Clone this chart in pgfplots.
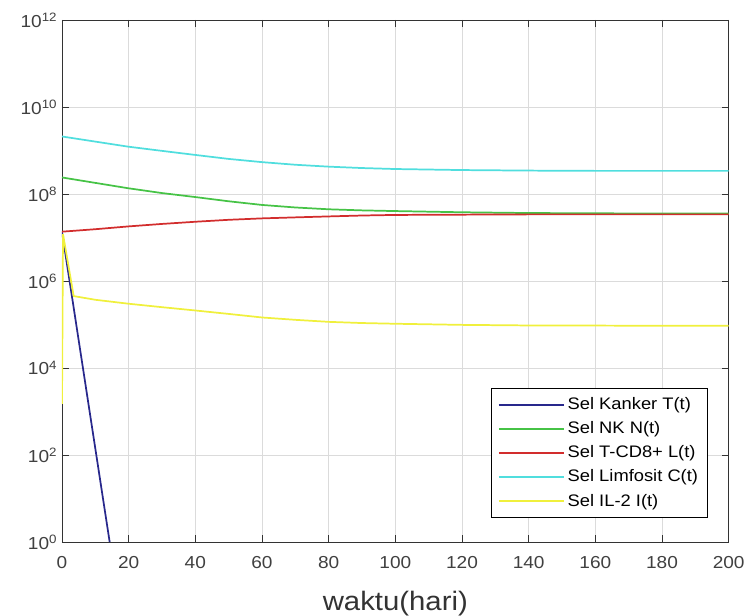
\documentclass[border=0pt]{standalone}
\usepackage{fontspec}
\setmainfont{Liberation Sans}[FakeStretch=1.1]
\usepackage{pgfplots}
\pgfplotsset{compat=1.18}
\definecolor{cBlue}{RGB}{40,40,140}
\definecolor{cGreen}{RGB}{70,195,70}
\definecolor{cRed}{RGB}{210,45,45}
\definecolor{cCyan}{RGB}{80,222,222}
\definecolor{cYellow}{RGB}{240,240,60}
\begin{document}
\begin{tikzpicture}
\useasboundingbox (-46.5pt,-55.5pt) rectangle (513pt,406.5pt);
\begin{axis}[
  scale only axis, width=500pt, height=391.5pt,
  xmin=0, xmax=200, ymode=log, ymin=1, ymax=1e12,
  xtick={0,20,...,200},
  ytick={1,1e2,1e4,1e6,1e8,1e10,1e12},
  yticklabels={10\textsuperscript{0},10\textsuperscript{2},10\textsuperscript{4},10\textsuperscript{6},10\textsuperscript{8},10\textsuperscript{10},10\textsuperscript{12}},
  yminorticks=false,
  grid=major, major grid style={black!14, line width=0.5pt},
  tick align=inside,
  axis line style={black!80, line width=0.6pt},
  tick style={black!80, line width=0.6pt}, major tick length=5pt,
  /pgf/number format/assume math mode=true,
  ticklabel style={font=\fontsize{13}{15}\selectfont, text=black!75},
  xticklabel style={yshift=-7pt},
  xlabel={waktu(hari)},
  xlabel style={font=\fontsize{20}{24}\selectfont, text=black!80, at={(axis description cs:0.5,0)}, anchor=base, yshift=-51.5pt},
  legend cell align=left,
  legend style={at={(axis description cs:0.969,0.046)}, anchor=south east, draw=black, line width=0.9pt, font=\fontsize{12.5}{14}\selectfont, row sep=3.5pt, inner xsep=5pt, inner ysep=5pt},
  legend image code/.code={\draw[#1, line width=1.3pt] (0pt,0pt) -- (49pt,0pt);},
  every axis plot/.append style={line width=1.3pt},
]
\addplot[cBlue] coordinates {(0,1.36e7) (14.3,1) (16,0.1)};
\addlegendentry{Sel Kanker T(t)}
\addplot[cGreen] coordinates {(0,2.4e8) (10,1.8e8) (20,1.35e8) (30,1.05e8) (40,8.5e7) (50,6.8e7) (60,5.6e7) (70,4.9e7) (80,4.45e7) (90,4.2e7) (100,4.05e7) (120,3.8e7) (140,3.65e7) (160,3.6e7) (180,3.55e7) (200,3.55e7)};
\addlegendentry{Sel NK N(t)}
\addplot[cRed] coordinates {(0,1.36e7) (10,1.55e7) (20,1.8e7) (30,2.05e7) (40,2.3e7) (50,2.55e7) (60,2.75e7) (70,2.9e7) (80,3.05e7) (90,3.2e7) (100,3.3e7) (120,3.35e7) (140,3.4e7) (200,3.4e7)};
\addlegendentry{Sel T-CD8+ L(t)}
\addplot[cCyan] coordinates {(0,2.1e9) (10,1.6e9) (20,1.22e9) (30,9.8e8) (40,7.9e8) (50,6.4e8) (60,5.4e8) (70,4.7e8) (80,4.25e8) (90,3.95e8) (100,3.75e8) (120,3.55e8) (140,3.45e8) (160,3.4e8) (180,3.4e8) (200,3.4e8)};
\addlegendentry{Sel Limfosit C(t)}
\addplot[cYellow] coordinates {(0,1.5e3) (0.3,1.2e7) (3.5,4.5e5) (10,3.7e5) (20,3.0e5) (30,2.5e5) (40,2.1e5) (50,1.75e5) (60,1.45e5) (70,1.28e5) (80,1.15e5) (90,1.08e5) (100,1.04e5) (120,9.8e4) (140,9.5e4) (200,9.3e4)};
\addlegendentry{Sel IL-2 I(t)}
\end{axis}
\end{tikzpicture}
\end{document}
